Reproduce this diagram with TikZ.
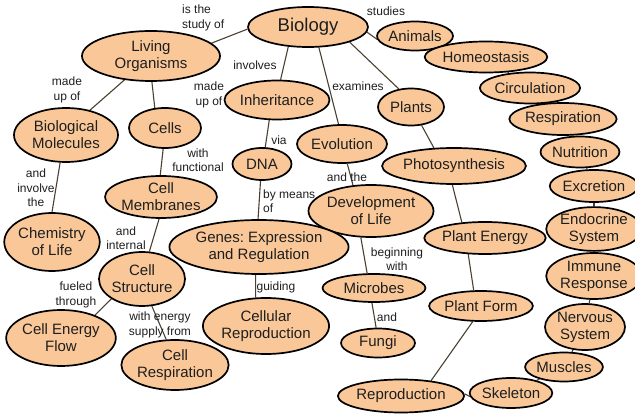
\documentclass[tikz,border=0pt]{standalone}
\usepackage{fontspec}
\setmainfont{Liberation Sans}
\usetikzlibrary{shapes.geometric,backgrounds}
\frenchspacing
\definecolor{peach}{HTML}{FAC898}
\definecolor{edgec}{HTML}{4A4030}
\definecolor{txt}{HTML}{1E1E1E}
\tikzset{
 concept/.style={ellipse, draw=black, line width=1.7pt, fill=peach, inner sep=0pt, align=center, font=\fontsize{15}{17}\selectfont, text=txt},
 lnk/.style={align=center, font=\fontsize{12}{14.5}\selectfont, text=txt, inner sep=0pt},
 conn/.style={draw=edgec, line width=1.1pt},
}
\begin{document}
\begin{tikzpicture}[x=1pt,y=-1pt]
\useasboundingbox (0,0) rectangle (635,414);
% concepts
\node[concept, minimum width=120pt, minimum height=40pt, font=\fontsize{18.5}{20}\selectfont] (bio) at (308,27) {Biology};
\node[concept, minimum width=138pt, minimum height=50pt] (liv) at (151,56) {Living\\Organisms};
\node[concept, minimum width=76pt, minimum height=29pt] (ani) at (415,36) {Animals};
\node[concept, minimum width=102pt, minimum height=31pt] (hom) at (486,57) {Homeostasis};
\node[concept, minimum width=88pt, minimum height=31pt] (cir) at (530,88) {Circulation};
\node[concept, minimum width=94pt, minimum height=32pt] (res) at (563,119) {Respiration};
\node[concept, minimum width=76pt, minimum height=31pt] (nut) at (580,152) {Nutrition};
\node[concept, minimum width=78pt, minimum height=32pt] (exc) at (594,186) {Excretion};
\node[concept, minimum width=82pt, minimum height=42pt] (endo) at (594,229) {Endocrine\\System};
\node[concept, minimum width=82pt, minimum height=46pt] (imm) at (594,276) {Immune\\Response};
\node[concept, minimum width=80pt, minimum height=46pt] (ner) at (585,327) {Nervous\\System};
\node[concept, minimum width=76pt, minimum height=29pt] (mus) at (564,367) {Muscles};
\node[concept, minimum width=77pt, minimum height=30pt] (ske) at (511,393) {Skeleton};
\node[concept, minimum width=108pt, minimum height=33pt] (rep) at (401,396) {Reproduction};
\node[concept, minimum width=103pt, minimum height=30pt] (pfo) at (481,306) {Plant Form};
\node[concept, minimum width=115pt, minimum height=32pt] (pen) at (485,238) {Plant Energy};
\node[concept, minimum width=122pt, minimum height=36pt] (pho) at (454,166) {Photosynthesis};
\node[concept, minimum width=66pt, minimum height=37pt] (pla) at (411,107) {Plants};
\node[concept, minimum width=90pt, minimum height=38pt] (evo) at (342,144) {Evolution};
\node[concept, minimum width=96pt, minimum height=39pt] (inh) at (277,100) {Inheritance};
\node[concept, minimum width=59pt, minimum height=32pt] (dna) at (262,164) {DNA};
\node[concept, minimum width=108pt, minimum height=52pt] (dev) at (371,211) {Development\\of Life};
\node[concept, minimum width=142pt, minimum height=54pt] (gen) at (259,247) {Genes: Expression\\and Regulation};
\node[concept, minimum width=126pt, minimum height=56pt] (crep) at (266,326) {Cellular\\Reproduction};
\node[concept, minimum width=103pt, minimum height=28pt] (mic) at (374,288) {Microbes};
\node[concept, minimum width=74pt, minimum height=29pt] (fun) at (378,343) {Fungi};
\node[concept, minimum width=104pt, minimum height=54pt] (bmo) at (66,135) {Biological\\Molecules};
\node[concept, minimum width=72pt, minimum height=40pt] (cel) at (165,128) {Cells};
\node[concept, minimum width=102pt, minimum height=42pt] (cme) at (161,197) {Cell\\Membranes};
\node[concept, minimum width=92pt, minimum height=58pt] (che) at (52,242) {Chemistry\\of Life};
\node[concept, minimum width=82pt, minimum height=54pt] (cst) at (142,279) {Cell\\Structure};
\node[concept, minimum width=102pt, minimum height=56pt] (cef) at (61,338) {Cell Energy\\Flow};
\node[concept, minimum width=90pt, minimum height=50pt] (cres) at (175,365) {Cell\\Respiration};
% linking phrases
\node[lnk, align=left, anchor=west] (l1) at (182,18) {is the\\study of};
\node[lnk] (l2) at (386,11) {studies};
\node[lnk] (l3) at (255,65) {involves};
\node[lnk] (l4) at (209,95) {made\\up of};
\node[lnk] (l5) at (67,90) {made\\up of};
\node[lnk] (l6) at (358,86) {examines};
\node[lnk] (l7) at (279,140) {via};
\node[lnk] (l8) at (198,160) {with\\functional};
\node[lnk] (l9) at (36,188) {and\\involve\\the};
\node[lnk, align=left, anchor=west] (l10) at (263,201) {by means\\of};
\node[lnk] (l11) at (347,177) {and the};
\node[lnk] (l12) at (126,238) {and\\internal};
\node[lnk] (l13) at (76,295) {fueled\\through};
\node[lnk] (l14) at (160,325) {with energy\\supply from};
\node[lnk] (l15) at (276,287) {guiding};
\node[lnk] (l16) at (397,259) {beginning\\with};
\node[lnk] (l17) at (387,317) {and};
% connectors
\begin{scope}[on background layer]
\draw[conn] (bio.182) -- (liv.12);
\draw[conn] (bio.355) -- (ani.185);
\draw[conn] (bio.225) -- (inh.80);
\draw[conn] (bio.298) -- (evo.100);
\draw[conn] (bio.340) -- (pla.124);
\draw[conn] (liv.222) -- (bmo.46);
\draw[conn] (liv.272) -- (cel.117);
\draw[conn] (cel.265) -- (cme.92);
\draw[conn] (bmo.258) -- (che.90);
\draw[conn] (cme.265) -- (cst.75);
\draw[conn] (cst.213) -- (cef.34);
\draw[conn] (cst.290) -- (cres.109);
\draw[conn] (inh.249) -- (dna.79);
\draw[conn] (dna.265) -- (gen.92);
\draw[conn] (gen.263) -- (crep.110);
\draw[conn] (evo.285) -- (dev.125);
\draw[conn] (dev.249) -- (mic.115);
\draw[conn] (mic.262) -- (fun.97);
\draw[conn] (pla.300) -- (pho.138);
\draw[conn] (pho.265) -- (pen.146);
\draw[conn] (pen.224) -- (pfo.115);
\draw[conn] (pfo.242) -- (rep.27);
\draw[conn] (rep.2) -- (ske.185);
\draw[conn] (ske) -- (mus);
\draw[conn] (mus) -- (ner);
\draw[conn] (ner) -- (imm);
\draw[conn] (imm) -- (endo);
\draw[conn] (endo) -- (exc);
\draw[conn] (exc) -- (nut);
\draw[conn] (nut) -- (res);
\draw[conn] (res) -- (cir);
\draw[conn] (cir) -- (hom);
\draw[conn] (hom) -- (ani);
\end{scope}
\end{tikzpicture}
\end{document}
